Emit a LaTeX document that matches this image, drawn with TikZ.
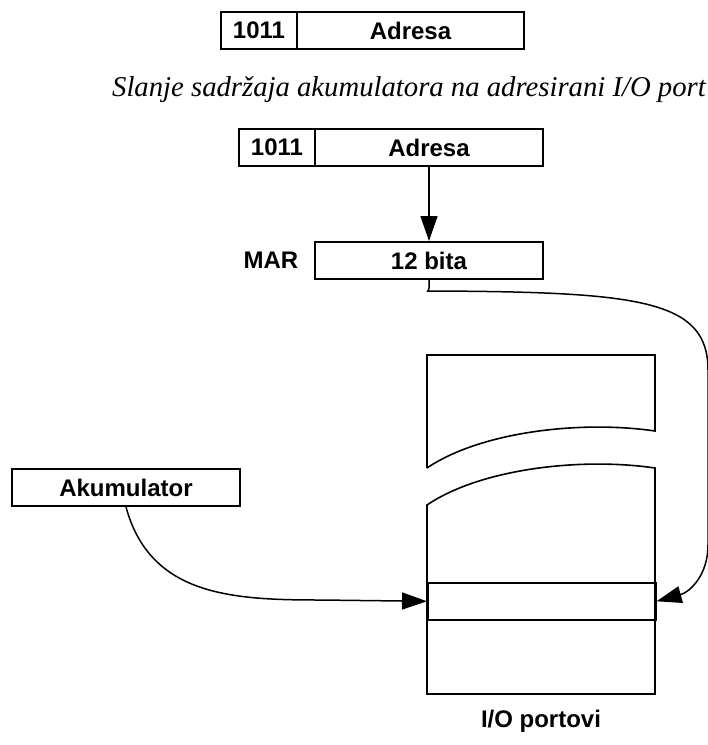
\documentclass[tikz,border=0pt]{standalone}
\usepackage{fontspec}
\setmainfont{Liberation Serif}
\newfontfamily\labelfont{Liberation Sans}
\usetikzlibrary{arrows.meta}
\begin{document}
\begin{tikzpicture}[x=1pt,y=-1pt,
  regbox/.style={draw,line width=2pt,rectangle,inner sep=0pt,
    minimum height=37pt,font=\labelfont\bfseries\fontsize{24}{27}\selectfont},
  lbl/.style={inner sep=0pt,font=\labelfont\bfseries\fontsize{24}{27}\selectfont},
  memline/.style={line width=1.6pt},
  conn/.style={line width=1.5pt,-{Triangle[length=25pt,width=17pt]}}]
\useasboundingbox (0,0) rectangle (708,745);

% instruction format (first line)
\node[regbox,minimum width=76pt,anchor=north west] (opA) at (220,11) {1011};
\node[regbox,minimum width=227pt,anchor=north west] (adrA) at (296,11) {Adresa};

% caption
\node[inner sep=0pt,font=\itshape\fontsize{28.7}{32}\selectfont] (cap) at (409,90)
  {Slanje sadržaja akumulatora na adresirani I/O port};

% instruction format (second line)
\node[regbox,minimum width=76pt,anchor=north west] (opB) at (238,128) {1011};
\node[regbox,minimum width=228pt,anchor=north west] (adrB) at (314,128) {Adresa};

% memory address register
\node[regbox,minimum width=228pt,anchor=north west] (mar) at (314,241) {12 bita};
\node[lbl] (marlbl) at (271,260) {MAR};

% accumulator
\node[regbox,minimum width=228pt,anchor=north west] (acc) at (11,468) {Akumulator};

% I/O port block, upper part
\draw[memline] (427,468) -- (427,355) -- (655,355) -- (655,431)
  .. controls (580,420) and (480,432) .. (427,468);
% I/O port block, lower part
\draw[memline] (427,505) .. controls (480,469) and (580,457) .. (655,468)
  -- (655,694) -- (427,694) -- cycle;
% addressed port
\node[draw,memline,rectangle,inner sep=0pt,minimum width=228pt,minimum height=37pt,
  anchor=north west] (port) at (427,582) {};
\node[lbl] (portlbl) at (541,721) {I/O portovi};

% connectors
\draw[conn] (adrB.south) -- (mar.north);
\draw[conn] (mar.south) -- ++(0,8) .. controls ++(0,4) and (424,291) .. (434,291)
  .. controls (640,292) and (708,300) .. (708,370)
  -- (708,545) .. controls (708,575) and (690,592) .. (port.east);
\draw[conn] (acc.south) .. controls (150,595) and (230,600) .. (320,600) -- (port.west);
\end{tikzpicture}
\end{document}
